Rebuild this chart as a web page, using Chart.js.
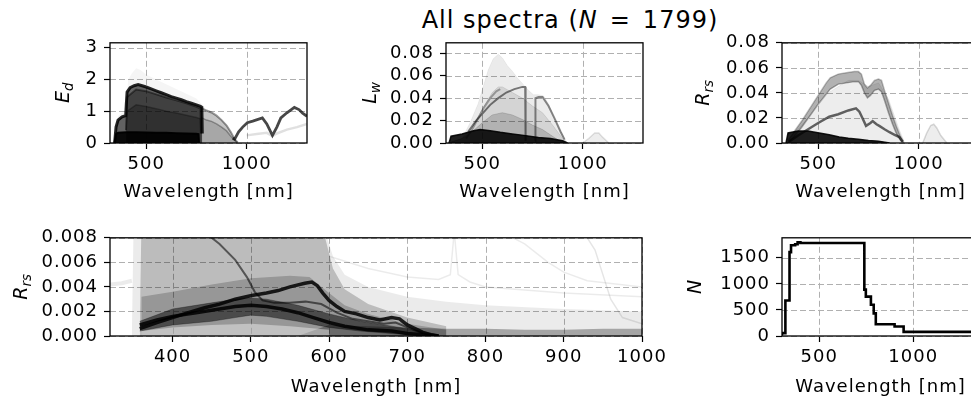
<!DOCTYPE html>
<html lang="en">
<head>
<meta charset="UTF-8">
<title>All spectra</title>
<script src="https://cdn.jsdelivr.net/npm/chart.js@4.4.0/dist/chart.umd.min.js"></script>
<style>
    body {
        margin: 0;
        width: 971px;
        height: 400px;
        overflow: hidden;
        background: #fff;
        position: relative;
        font-family: 'DejaVu Sans', sans-serif;
    }
    canvas { position: absolute; }
    #title {
        position: absolute;
        top: 6px;
        left: 570px;
        transform: translateX(-50%);
        font-size: 24px;
        line-height: 28px;
        letter-spacing: 1px;
        white-space: nowrap;
        color: #000;
    }
</style>
</head>
<body>
<div id="title">All spectra (<i>N</i>&#8202; = &#8202;1799)</div>
<canvas id="ed"></canvas>
<canvas id="lw"></canvas>
<canvas id="rrs"></canvas>
<canvas id="rrsZoom"></canvas>
<canvas id="count"></canvas>
<script>
// ---- E_d panel ----
const edHazeWl = [340, 360, 380, 400, 410, 430, 450, 470, 500, 550, 600, 650, 700, 750, 780, 800, 850, 900, 930, 950];
const edHazeVal = [0, 0.85, 0.95, 1.0, 2.0, 2.2, 2.35, 2.3, 2.15, 2.0, 1.85, 1.7, 1.55, 1.4, 1.2, 1.05, 0.85, 0.6, 0.25, 0.05];
const edBlockWl = [343, 350, 360, 380, 398, 401, 405, 420, 440, 460, 480, 500, 525, 550, 575, 600, 625, 650, 675, 700, 725, 750, 770, 777, 779];
const edBlockVal = [0, 0.5, 0.72, 0.82, 0.86, 1.2, 1.6, 1.74, 1.8, 1.84, 1.8, 1.76, 1.7, 1.64, 1.58, 1.52, 1.46, 1.41, 1.36, 1.3, 1.25, 1.2, 1.15, 1.12, 0.3];
const edInnerWl = [400, 405, 450, 500, 550, 600, 650, 700, 750, 770, 772];
const edInnerVal = [0.4, 1.45, 1.68, 1.63, 1.53, 1.43, 1.34, 1.25, 1.14, 1.08, 0.3];
const edInner2Val = [0.4, 1.0, 1.2, 1.15, 1.08, 1.0, 0.94, 0.87, 0.8, 0.76, 0.3];
const edBaseWl = [342, 350, 360, 400, 450, 500, 550, 600, 650, 700, 750, 760, 763];
const edBaseVal = [0, 0.28, 0.32, 0.34, 0.34, 0.33, 0.32, 0.32, 0.31, 0.3, 0.29, 0.28, 0];
const edTailWl = [772, 780, 800, 825, 850, 875, 900, 920, 940, 955];
const edTailVal = [1.12, 1.08, 1.02, 0.96, 0.86, 0.72, 0.55, 0.35, 0.12, 0.02];
const edTail2Val = [0.8, 0.78, 0.72, 0.68, 0.6, 0.5, 0.38, 0.22, 0.08, 0.01];
const edDarkWl = [930, 940, 960, 980, 1003, 1030, 1078, 1100, 1128, 1150, 1170, 1200, 1237, 1260, 1278, 1300];
const edDarkVal = [0.15, 0.12, 0.35, 0.5, 0.64, 0.69, 0.79, 0.6, 0.24, 0.5, 0.79, 0.95, 1.12, 1.05, 0.94, 0.84];
const edLightWl = [1000, 1050, 1100, 1128, 1150, 1200, 1250, 1300];
const edLightVal = [0.24, 0.28, 0.32, 0.22, 0.3, 0.42, 0.5, 0.6];

// ---- L_w panel ----
const lwHazeWl = [330, 400, 440, 480, 505, 530, 555, 580, 600, 625, 650, 675, 705, 730, 755, 780, 805, 830, 855, 880, 905, 920];
const lwHazeVal = [0, 0.004, 0.018, 0.035, 0.05, 0.065, 0.075, 0.079, 0.076, 0.069, 0.064, 0.058, 0.052, 0.047, 0.043, 0.043, 0.042, 0.035, 0.024, 0.014, 0.006, 0];
const lwMidWl = [330, 400, 450, 500, 550, 580, 600, 650, 700, 750, 800, 850, 900, 915];
const lwMidVal = [0, 0.004, 0.014, 0.03, 0.045, 0.05, 0.05, 0.045, 0.04, 0.033, 0.027, 0.016, 0.004, 0];
const lwLowWl = [330, 400, 450, 500, 550, 600, 650, 700, 750, 800, 850, 900];
const lwLowVal = [0, 0.004, 0.01, 0.018, 0.025, 0.027, 0.025, 0.021, 0.016, 0.012, 0.006, 0];
const lwFlankWl = [420, 450, 480, 510, 540, 570, 590];
const lwFlankVal = [0.004, 0.012, 0.022, 0.032, 0.04, 0.046, 0.048];
const lwBaseWl = [335, 345, 400, 457, 490, 540, 590, 650, 707, 780, 840, 900, 925];
const lwBaseVal = [0, 0.006, 0.008, 0.011, 0.012, 0.011, 0.0095, 0.008, 0.0068, 0.005, 0.004, 0.002, 0];
const lwEdgeAWl = [430, 470, 500, 540, 580, 620, 660, 700, 714, 716];
const lwEdgeAVal = [0.01, 0.02, 0.026, 0.034, 0.04, 0.045, 0.048, 0.05, 0.05, 0.002];
const lwEdgeBWl = [763, 765, 780, 800, 830, 860, 890, 910];
const lwEdgeBVal = [0.002, 0.04, 0.041, 0.041, 0.033, 0.022, 0.01, 0.003];
const lwBumpWl = [1000, 1030, 1060, 1080, 1100, 1130];
const lwBumpVal = [0, 0.004, 0.009, 0.009, 0.005, 0];

// ---- R_rs panel ----
const rrsBandWl = [350, 380, 420, 460, 500, 540, 560, 600, 640, 680, 700, 715, 730, 745, 760, 780, 800, 815, 830, 850, 870, 890, 910, 925];
const rrsBandHi = [0.002, 0.009, 0.018, 0.028, 0.038, 0.048, 0.052, 0.055, 0.056, 0.057, 0.057, 0.055, 0.047, 0.044, 0.046, 0.05, 0.051, 0.05, 0.042, 0.032, 0.022, 0.013, 0.005, 0.001];
const rrsBandLo = [0, 0.005, 0.013, 0.022, 0.031, 0.039, 0.043, 0.047, 0.048, 0.049, 0.049, 0.046, 0.04, 0.036, 0.038, 0.042, 0.043, 0.041, 0.034, 0.024, 0.015, 0.007, 0.002, 0];
const rrsHazeWl = [350, 450, 550, 650, 700, 750, 800, 850, 900, 930];
const rrsHazeVal = [0.003, 0.02, 0.04, 0.05, 0.05, 0.045, 0.048, 0.035, 0.012, 0];
const rrsMidWl = [355, 400, 450, 500, 555, 600, 650, 688, 705, 720, 738, 760, 771, 790, 804, 830, 855, 880, 904, 920];
const rrsMidVal = [0.001, 0.006, 0.011, 0.016, 0.021, 0.023, 0.026, 0.0277, 0.025, 0.02, 0.0137, 0.016, 0.0175, 0.015, 0.0137, 0.011, 0.0086, 0.0065, 0.0048, 0.001];
const rrsBaseWl = [340, 350, 400, 450, 470, 555, 605, 650, 700, 750, 800, 855];
const rrsBaseVal = [0, 0.008, 0.0095, 0.0095, 0.009, 0.0066, 0.0048, 0.0038, 0.003, 0.002, 0.0015, 0];
const rrsBumpWl = [1020, 1040, 1060, 1075, 1090, 1110, 1140];
const rrsBumpVal = [0, 0.008, 0.014, 0.015, 0.012, 0.006, 0];

// ---- R_rs zoom panel ----
const zPreWl = [320, 335, 348];
const zPreVal = [0.0042, 0.0043, 0.0045];
const zVeilWl = [348, 350, 360, 595, 605, 620, 650, 700, 750, 800, 900, 1000];
const zVeilVal = [0.0004, 0.0085, 0.0085, 0.0085, 0.0065, 0.005, 0.004, 0.0032, 0.0028, 0.0025, 0.0022, 0.002];
const zVeil2Wl = [358, 360, 400, 450, 500, 550, 580, 595, 605, 620, 650, 700, 750];
const zVeil2Val = [0.0006, 0.0085, 0.0085, 0.0085, 0.0085, 0.0085, 0.0085, 0.008, 0.0055, 0.0038, 0.0026, 0.0015, 0.0008];
const zBandWl = [360, 400, 450, 500, 550, 575, 600, 620, 650, 700, 750];
const zBandVal = [0.0032, 0.0036, 0.0042, 0.0047, 0.0049, 0.0048, 0.0035, 0.0025, 0.0018, 0.001, 0.0005];
const zFloorWl = [560, 600, 650, 700, 750, 800, 850, 900, 950, 1000];
const zFloorVal = [0, 0.0009, 0.0008, 0.0007, 0.0006, 0.0006, 0.0005, 0.0005, 0.0006, 0.0006];
const zClearWl = [360, 400, 450, 500, 550, 600];
const zClearVal = [0.0004, 0.0007, 0.0009, 0.001, 0.0008, 0.0005];
const zDenseWl = [358, 400, 450, 480, 500, 520, 560, 600, 640, 700, 740];
const zDenseHi = [0.0012, 0.0022, 0.0027, 0.003, 0.0031, 0.003, 0.0025, 0.0018, 0.0012, 0.0006, 0.0001];
const zDenseLo = [0.0004, 0.0009, 0.0012, 0.0015, 0.0017, 0.0016, 0.0012, 0.0007, 0.0004, 0.0001, 0];
const zLineAWl = [358, 380, 400, 420, 441, 460, 480, 501, 520, 535, 550, 569, 578, 585, 592, 600, 610, 620, 635, 650, 665, 680, 690, 700, 710, 720, 730, 740];
const zLineAVal = [0.0006, 0.0011, 0.0015, 0.0019, 0.0023, 0.0026, 0.003, 0.0033, 0.0035, 0.0037, 0.004, 0.0043, 0.0044, 0.0041, 0.0035, 0.0029, 0.0024, 0.002, 0.0018, 0.0015, 0.0013, 0.0015, 0.0014, 0.0009, 0.0006, 0.0003, 0.0001, 0];
const zLineBWl = [358, 380, 400, 430, 460, 480, 500, 520, 540, 560, 580, 600, 620, 650, 680, 700, 720, 740];
const zLineBVal = [0.0009, 0.0013, 0.0016, 0.0019, 0.0022, 0.0024, 0.0025, 0.0024, 0.0022, 0.0019, 0.0015, 0.0011, 0.0008, 0.0005, 0.0004, 0.0002, 0.0001, 0];
const zLineCWl = [440, 460, 480, 495, 505, 515, 530, 550, 570, 590, 610, 630, 650, 670, 685, 700, 720];
const zLineCVal = [0.0085, 0.0075, 0.0062, 0.0048, 0.0036, 0.0029, 0.0027, 0.0027, 0.0028, 0.0026, 0.0019, 0.0014, 0.0012, 0.001, 0.0011, 0.0007, 0.0002];
const zFaintAWl = [600, 650, 700, 740, 755, 760, 765, 780, 800, 900, 1000];
const zFaintAVal = [0.0065, 0.0055, 0.0048, 0.0046, 0.005, 0.0085, 0.005, 0.0044, 0.004, 0.0035, 0.0032];
const zFaintBWl = [820, 850, 880, 900, 930, 1000];
const zFaintBVal = [0.0085, 0.0075, 0.006, 0.0052, 0.0045, 0.004];
const zSteepWl = [925, 940, 950, 960, 975, 1000];
const zSteepVal = [0.0085, 0.007, 0.005, 0.003, 0.0015, 0.001];

// ---- N panel ----
const nWl = [302, 320, 342, 350, 372, 385, 400, 740, 748, 775, 790, 801, 901, 949, 1002, 1350];
const nVal = [15, 55, 680, 1610, 1740, 1760, 1799, 1785, 889, 756, 600, 435, 224, 181, 79, 79];

function pts(wl, val) {
    return wl.map((x, i) => ({ x: x, y: val[i] }));
}

// one spectrum layer: line alpha/width, plus optional fill alpha
function spec(wl, val, lineAlpha, width, fillAlpha, fillTo, fillColor) {
    return {
        data: pts(wl, val),
        borderColor: width ? 'rgba(0,0,0,' + lineAlpha + ')' : 'rgba(0,0,0,0)',
        borderWidth: width || 1,
        backgroundColor: fillColor || 'rgba(0,0,0,' + (fillAlpha || 0) + ')',
        fill: fillAlpha || fillColor ? (fillTo || 'origin') : false,
        pointRadius: 0,
        tension: 0
    };
}

const panels = [
    {
        id: 'ed', area: [110, 38, 307, 143], x: [320, 1300], y: [0, 3.15],
        xt: [500, 1000], yt: [0, 1, 2, 3], yd: 0, lab: ['E', 'd'], labX: 62, below: 60,
        sets: [
            spec(edHazeWl, edHazeVal, 0, 0, 0.04),
            spec(edTailWl, edTailVal, 0.4, 2, 0.2),
            spec(edTailWl, edTail2Val, 0.3, 1.5, 0.15),
            spec(edBlockWl, edBlockVal, 0.85, 3, 0.6),
            spec(edInnerWl, edInnerVal, 0.45, 2, 0.35),
            spec(edInnerWl, edInner2Val, 0.3, 1.5, 0.25),
            spec(edBaseWl, edBaseVal, 0.95, 2, 0.9),
            spec(edLightWl, edLightVal, 0.12, 2.5),
            spec(edDarkWl, edDarkVal, 0.72, 2.8)
        ]
    },
    {
        id: 'lw', area: [446, 38, 643, 143], x: [320, 1300], y: [0, 0.0893],
        xt: [500, 1000], yt: [0, 0.02, 0.04, 0.06, 0.08], yd: 2, lab: ['L', 'w'], labX: 369, below: 60,
        sets: [
            spec(lwHazeWl, lwHazeVal, 0.06, 1, 0.08),
            spec(lwMidWl, lwMidVal, 0.1, 1, 0.1),
            spec(lwLowWl, lwLowVal, 0.15, 1, 0.16),
            spec(lwBumpWl, lwBumpVal, 0.12, 1.5, 0.07),
            spec(lwFlankWl, lwFlankVal, 0.3, 2),
            spec(lwEdgeAWl, lwEdgeAVal, 0.5, 2),
            spec(lwEdgeBWl, lwEdgeBVal, 0.45, 2),
            spec(lwBaseWl, lwBaseVal, 0.9, 1.5, 0.88)
        ]
    },
    {
        id: 'rrs', area: [782, 38, 979, 143], x: [320, 1300], y: [0, 0.08],
        xt: [500, 1000], yt: [0, 0.02, 0.04, 0.06, 0.08], yd: 2, lab: ['R', 'rs'], labX: 702, below: 60,
        sets: [
            spec(rrsHazeWl, rrsHazeVal, 0.08, 1, 0.07),
            spec(rrsBumpWl, rrsBumpVal, 0.15, 1.5, 0.07),
            spec(rrsBandWl, rrsBandLo, 0.3, 1.5),
            spec(rrsBandWl, rrsBandHi, 0.25, 1.5, 0.3, '-1'),
            spec(rrsMidWl, rrsMidVal, 0.6, 2.5),
            spec(rrsBaseWl, rrsBaseVal, 0.9, 1.5, 0.88)
        ]
    },
    {
        id: 'rrsZoom', area: [110, 233, 642, 336], x: [320, 1000], y: [0, 0.008],
        xt: [400, 500, 600, 700, 800, 900, 1000], yt: [0, 0.002, 0.004, 0.006, 0.008], yd: 3,
        lab: ['R', 'rs'], labX: 20, below: 62,
        sets: [
            spec(zPreWl, zPreVal, 0.08, 4),
            spec(zVeilWl, zVeilVal, 0, 0, 0.08),
            spec(zVeil2Wl, zVeil2Val, 0, 0, 0.2),
            spec(zBandWl, zBandVal, 0, 0, 0.2),
            spec(zFloorWl, zFloorVal, 0, 0, 0.3),
            spec(zClearWl, zClearVal, 0, 0, 0, 'origin', 'rgba(255,255,255,0.4)'),
            spec(zFaintAWl, zFaintAVal, 0.08, 1.5),
            spec(zFaintBWl, zFaintBVal, 0.08, 1.5),
            spec(zSteepWl, zSteepVal, 0.1, 1.5),
            spec(zDenseWl, zDenseLo, 0.3, 1),
            spec(zDenseWl, zDenseHi, 0.3, 1, 0.5, '-1'),
            spec(zLineCWl, zLineCVal, 0.55, 2),
            spec(zLineBWl, zLineBVal, 0.85, 3.5),
            spec(zLineAWl, zLineAVal, 0.85, 3.5)
        ]
    },
    {
        id: 'count', area: [782, 233, 979, 336], x: [302, 1350], y: [0, 1884],
        xt: [500, 1000], yt: [0, 500, 1000, 1500], yd: 0, lab: ['N', ''], labX: 694, below: 62,
        sets: [
            Object.assign(spec(nWl, nVal, 1, 2.6), { stepped: 'after' })
        ]
    }
];

const FONT = 'DejaVu Sans';

// dashed grid, black box round the axes, and the math-style y label
const framePlugin = {
    id: 'frame',
    beforeDraw(chart) {
        chart.ctx.letterSpacing = '1px';
    },
    beforeDatasetsDraw(chart) {
        const a = chart.chartArea, ctx = chart.ctx;
        const sx = chart.scales.x, sy = chart.scales.y;
        ctx.save();
        ctx.strokeStyle = '#b0b0b0';
        ctx.lineWidth = 1;
        ctx.setLineDash([6, 3]);
        ctx.beginPath();
        sx.ticks.forEach(t => {
            const px = Math.round(sx.getPixelForValue(t.value)) + 0.5;
            ctx.moveTo(px, a.top);
            ctx.lineTo(px, a.bottom);
        });
        sy.ticks.forEach(t => {
            const py = Math.round(sy.getPixelForValue(t.value)) + 0.5;
            ctx.moveTo(a.left, py);
            ctx.lineTo(a.right, py);
        });
        ctx.stroke();
        ctx.restore();
    },
    afterDatasetsDraw(chart) {
        const a = chart.chartArea, ctx = chart.ctx;
        ctx.save();
        ctx.strokeStyle = '#000';
        ctx.lineWidth = 1.3;
        ctx.strokeRect(a.left, a.top, a.right - a.left, a.bottom - a.top);
        ctx.restore();
    },
    afterDraw(chart) {
        const p = chart.options.plugins.frame;
        const a = chart.chartArea, ctx = chart.ctx;
        const fs = 19, cap = 0.73 * fs;
        ctx.save();
        ctx.letterSpacing = '0px';
        ctx.translate(p.x, (a.top + a.bottom) / 2);
        ctx.rotate(-Math.PI / 2);
        ctx.fillStyle = '#000';
        ctx.textBaseline = 'alphabetic';
        ctx.font = 'italic ' + fs + 'px "' + FONT + '"';
        const w1 = ctx.measureText(p.main).width;
        ctx.font = 'italic ' + (fs * 0.7) + 'px "' + FONT + '"';
        const w2 = p.sub ? ctx.measureText(p.sub).width : 0;
        const x0 = -(w1 + w2) / 2;
        ctx.font = 'italic ' + fs + 'px "' + FONT + '"';
        ctx.fillText(p.main, x0, cap / 2);
        if (p.sub) {
            ctx.font = 'italic ' + (fs * 0.7) + 'px "' + FONT + '"';
            ctx.fillText(p.sub, x0 + w1, cap / 2 + fs * 0.22);
        }
        ctx.restore();
    }
};

function makeChart(p) {
    const padL = 100, padT = 12, padR = 30;
    const w = padL + (p.area[2] - p.area[0]) + padR;
    const h = padT + (p.area[3] - p.area[1]) + p.below;
    const cv = document.getElementById(p.id);
    cv.width = w;
    cv.height = h;
    cv.style.left = (p.area[0] - padL) + 'px';
    cv.style.top = (p.area[1] - padT) + 'px';
    cv.style.width = w + 'px';
    cv.style.height = h + 'px';

    p.sets.forEach((s, i) => { s.order = -i; });

    const gridOpts = {
        display: true,
        drawOnChartArea: false,
        drawTicks: true,
        tickLength: 6,
        tickColor: '#000',
        tickWidth: 1.2
    };
    const tickFont = { family: FONT, size: 18 };

    new Chart(cv, {
        type: 'line',
        data: { datasets: p.sets },
        options: {
            responsive: false,
            animation: false,
            events: [],
            layout: { padding: { left: 0, top: padT, right: padR, bottom: 0 } },
            plugins: {
                legend: { display: false },
                tooltip: { enabled: false },
                frame: { x: p.labX - (p.area[0] - padL), main: p.lab[0], sub: p.lab[1] }
            },
            scales: {
                x: {
                    type: 'linear',
                    min: p.x[0],
                    max: p.x[1],
                    grid: gridOpts,
                    border: { display: false },
                    ticks: {
                        font: tickFont, color: '#000', padding: 5, maxRotation: 0, autoSkip: false,
                        callback: v => String(v)
                    },
                    title: {
                        display: true, text: 'Wavelength [nm]', color: '#000',
                        font: { family: FONT, size: 18 }, padding: { top: 0, bottom: 0 }
                    },
                    afterBuildTicks: s => { s.ticks = p.xt.map(v => ({ value: v })); },
                    afterFit: s => { s.height = p.below; }
                },
                y: {
                    type: 'linear',
                    min: p.y[0],
                    max: p.y[1],
                    grid: gridOpts,
                    border: { display: false },
                    ticks: {
                        font: tickFont, color: '#000', padding: 6, autoSkip: false,
                        callback: v => v.toFixed(p.yd)
                    },
                    afterBuildTicks: s => { s.ticks = p.yt.map(v => ({ value: v })); },
                    afterFit: s => { s.width = padL; }
                }
            }
        },
        plugins: [framePlugin]
    });
}

panels.forEach(makeChart);
</script>
</body>
</html>
